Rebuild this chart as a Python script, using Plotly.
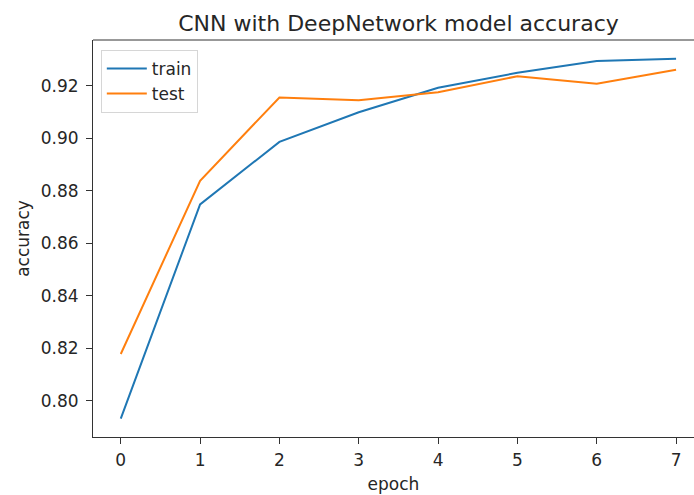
import plotly.graph_objects as go

epochs = [0, 1, 2, 3, 4, 5, 6, 7]
train_acc = [0.7932, 0.8748, 0.8986, 0.9099, 0.9192, 0.9249, 0.9294, 0.9303]
test_acc = [0.8178, 0.8838, 0.9155, 0.9145, 0.9175, 0.9236, 0.9207, 0.9261]
x_ticks = [0, 1, 2, 3, 4, 5, 6, 7]
y_ticks = [0.80, 0.82, 0.84, 0.86, 0.88, 0.90, 0.92]

fig = go.Figure()
fig.add_trace(go.Scatter(x=epochs, y=train_acc, mode="lines", name="train",
                         line=dict(color="#1f77b4", width=2)))
fig.add_trace(go.Scatter(x=epochs, y=test_acc, mode="lines", name="test",
                         line=dict(color="#ff7f0e", width=2)))

axis_common = dict(showgrid=False, zeroline=False, showline=True, linecolor="#333333",
                   linewidth=1, ticks="outside", ticklen=6, tickwidth=1, tickcolor="#333333",
                   automargin=False,
                   tickfont=dict(family="DejaVu Sans", size=17, color="#262626"))

fig.update_layout(
    width=694, height=495,
    paper_bgcolor="white", plot_bgcolor="white",
    margin=dict(l=93, r=0, t=40, b=58, autoexpand=False),
    title=dict(text="CNN with DeepNetwork model accuracy", x=0.5742, xanchor="center",
               y=0.9535, yanchor="middle",
               font=dict(family="DejaVu Sans", size=22, color="#262626")),
    font=dict(family="DejaVu Sans", size=17, color="#262626"),
    showlegend=True,
    legend=dict(x=0.013, y=0.975, xanchor="left", yanchor="top", itemwidth=40,
                tracegroupgap=2,
                bgcolor="rgba(255,255,255,0.8)", bordercolor="#d6d6d6", borderwidth=1,
                font=dict(family="DejaVu Sans", size=17, color="#262626")),
)
fig.update_xaxes(range=[-0.35, 7.226], tickvals=x_ticks, mirror=False, ticklabelstandoff=2,
                 title=dict(text="epoch", standoff=8, font=dict(size=17)), **axis_common)
fig.update_yaxes(range=[0.7862, 0.9374], tickvals=y_ticks, tickformat=".2f",
                 ticklabelstandoff=4,
                 title=dict(text="accuracy", standoff=6, font=dict(size=17)), **axis_common)
# top spine
fig.add_shape(type="line", xref="paper", yref="paper", x0=0, x1=1, y0=1, y1=1,
              line=dict(color="#333333", width=1))

fig.write_html("out.html", config={"displayModeBar": False},
               post_script="document.body.style.margin='0';document.body.style.overflow='hidden';")
